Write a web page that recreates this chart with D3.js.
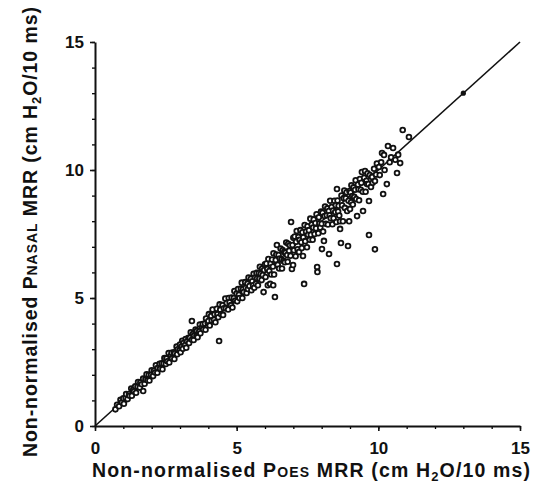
<!DOCTYPE html>
<html>
<head>
<meta charset="utf-8">
<script src="https://cdn.jsdelivr.net/npm/d3@7"></script>
<style>
  body { margin: 0; background: #fff; }
  text { font-family: "Liberation Sans", Arial, sans-serif; fill: #111; }
</style>
</head>
<body>
<div id="chart"></div>
<script>
// Non-normalised MRR, Poes (x) vs Pnasal (y), cm H2O/10 ms
const poesLow = [0.72,0.78,0.85,0.9,0.95,1.0,1.02,1.08,1.1,1.15,1.2,1.22,1.28,1.3,1.35,1.38,1.42,1.45,1.5,1.52,1.58,1.6,1.65,1.7,1.7,1.75,1.78,1.82,1.85,1.9,1.92,1.98,2.0,
  2.05,2.08,2.12,2.15,2.2,2.22,2.28,2.3,2.35,2.38,2.42,2.45,2.5,2.52,2.55,2.6,2.62,2.68,2.7,2.72,2.78,2.8,2.82,2.88,2.9,2.92,2.98,3.0,
  3.02,3.05,3.08,3.1,3.12,3.18,3.2,3.22,3.25,3.3,3.32,3.35,3.38,3.42,3.42,3.45,3.48,3.5,3.55,3.58,3.6,3.62,3.68,3.7,3.72,3.78,3.8,3.82,3.88,3.9,3.92,3.98];
const nasalLow = [0.65,0.83,0.77,1.02,0.93,1.08,0.87,1.10,1.25,1.05,1.25,1.18,1.46,1.18,1.42,1.36,1.55,1.30,1.53,1.72,1.50,1.70,1.63,1.37,1.85,1.65,1.82,2.02,1.79,2.00,1.78,2.00,2.18,
  1.95,2.16,2.09,2.37,2.08,2.27,2.43,2.24,2.45,2.22,2.44,2.65,2.42,2.64,2.53,2.85,2.48,2.74,2.86,2.65,2.88,2.62,2.84,3.10,2.80,3.00,2.95,3.18,
  2.88,3.10,3.33,3.02,3.24,3.16,3.40,3.06,3.31,3.45,3.24,3.45,3.66,4.10,3.37,3.59,3.36,3.54,3.77,3.52,3.72,3.47,3.70,3.96,3.62,3.86,3.98,3.78,4.00,3.76,4.20,4.03];

const poesMid = [4.0,4.02,4.05,4.1,4.12,4.15,4.2,4.22,4.25,4.3,4.32,4.35,4.38,4.4,4.42,4.45,4.5,4.52,4.55,4.6,4.62,4.65,4.7,4.72,4.75,4.8,4.82,4.85,4.9,4.92,4.95,5.0,
  5.02,5.05,5.08,5.1,5.15,5.18,5.2,5.22,5.25,5.3,5.32,5.35,5.38,5.4,5.42,5.45,5.5,5.52,5.55,5.58,5.6,5.62,5.65,5.68,5.7,5.72,5.75,5.78,5.8,5.82,5.85,5.88,5.9,5.92,5.95,5.97,6.0,
  6.02,6.05,6.08,6.1,6.12,6.15,6.18,6.2,6.22,6.25,6.28,6.29,6.3,6.32,6.35,6.38,6.4,6.42,6.45,6.48,6.5,6.52,6.55,6.58,6.6,6.62,6.65,6.68,6.7,6.72,6.75,6.78,6.8,6.82,6.85,6.88,6.9,6.92,6.95,6.97,6.99,7.0];
const nasalMid = [4.10,4.37,3.93,4.30,4.12,4.55,4.15,4.37,4.05,4.58,4.37,4.25,3.32,4.75,4.54,4.37,4.72,4.34,4.60,4.98,4.60,4.80,4.55,5.00,4.83,4.72,5.02,4.63,5.00,5.27,4.90,5.18,
  4.87,5.35,5.13,5.00,5.37,5.60,5.00,5.34,5.23,5.62,5.40,5.20,5.56,5.35,5.80,5.47,5.75,5.30,5.65,5.50,5.95,5.40,5.80,5.56,5.98,5.77,5.50,5.98,5.75,6.22,5.95,5.70,6.15,5.90,5.23,6.09,6.32,
  5.82,6.35,6.13,5.50,6.52,6.05,5.55,6.35,5.92,6.50,6.23,5.50,6.75,5.92,5.04,6.48,6.70,7.07,6.30,6.68,6.15,6.54,6.93,6.50,6.15,6.87,6.45,6.80,6.40,6.77,7.17,6.68,6.42,7.12,6.85,7.06,6.65,7.97,6.13,7.07,6.29,7.35];

const poesHigh = [7.02,7.05,7.08,7.1,7.12,7.15,7.18,7.2,7.22,7.25,7.28,7.3,7.32,7.34,7.35,7.38,7.4,7.42,7.45,7.48,7.5,7.52,7.55,7.58,7.6,7.62,7.65,7.68,7.7,7.72,7.75,7.78,7.8,7.82,7.84,7.85,7.88,7.9,7.92,7.95,7.98,
  8.0,8.01,8.03,8.05,8.08,8.1,8.12,8.15,8.18,8.2,8.22,8.25,8.26,8.28,8.3,8.32,8.35,8.38,8.4,8.42,8.45,8.48,8.5,8.52,8.54,8.54,8.56,8.58,8.6,8.62,8.65,8.65,8.68,8.7,8.72,8.75,8.78,8.8,8.82,8.85,8.88,8.9,8.93,8.95,8.97,8.98,
  9.0,9.02,9.04,9.05,9.08,9.1,9.12,9.15,9.18,9.2,9.22,9.25,9.28,9.3,9.32,9.35,9.38,9.4,9.42,9.45,9.46,9.5,9.53,9.55,9.58,9.6,9.62,9.65,9.67,9.67,9.7,9.74,9.78,9.8,9.85,9.88,9.88,9.92,9.95,10.02,
  10.05,10.1,10.13,10.17,10.2,10.22,10.3,10.34,10.4,10.45,10.52,10.6,10.66,10.7,10.77,10.86,11.08];
const nasalHigh = [6.87,7.40,6.63,7.20,7.62,6.90,7.38,6.80,7.27,7.65,7.18,6.95,7.57,6.64,7.37,5.55,7.85,7.22,7.60,6.98,7.80,7.47,7.65,7.28,8.10,7.47,7.87,7.28,7.75,8.07,7.50,7.93,7.72,8.27,6.21,6.02,7.53,8.15,7.92,7.75,8.38,
  7.90,6.91,8.33,7.60,7.23,8.20,8.57,7.90,8.23,8.50,7.87,8.40,6.72,8.23,8.80,8.12,8.55,7.88,8.42,8.12,8.80,8.36,8.62,7.97,9.26,6.33,8.81,8.38,8.60,8.22,8.00,7.70,7.15,9.00,8.62,8.00,8.90,9.20,8.52,8.90,9.13,8.40,7.03,8.80,8.00,9.18,
  8.48,9.12,8.74,9.40,8.98,8.65,9.32,8.95,9.23,9.60,8.87,8.20,9.43,9.25,8.82,9.65,9.23,9.50,9.92,9.15,8.40,9.70,9.96,9.15,9.58,9.45,9.87,9.45,8.79,7.46,9.80,9.34,9.73,9.50,10.05,9.57,6.90,9.82,10.25,10.12,
  9.80,10.30,10.66,9.06,10.59,10.00,9.45,10.94,10.30,10.50,10.86,10.40,9.88,10.60,10.27,11.56,11.29];

// single filled marker on the identity line
const markerPoint = [13, 13];

const xTicks = [0, 5, 10, 15];
const yTicks = [0, 5, 10, 15];
const minorTicks = d3.range(0, 16);

const poes = poesLow.concat(poesMid, poesHigh);
const nasal = nasalLow.concat(nasalMid, nasalHigh);
const points = poes.map((x, i) => ({ x: x, y: nasal[i] }));

const margin = { top: 42, right: 21, bottom: 64, left: 95 };
const width = 541 - margin.left - margin.right;
const height = 490 - margin.top - margin.bottom;

const svg = d3.select("#chart").append("svg")
    .attr("width", 541)
    .attr("height", 490);

const g = svg.append("g")
    .attr("transform", `translate(${margin.left}, ${margin.top})`);

const x = d3.scaleLinear().domain([0, 15]).range([0, width]);
const y = d3.scaleLinear().domain([0, 15]).range([height, 0]);

// minor ticks
g.append("g")
    .attr("transform", `translate(0, ${height})`)
    .call(d3.axisBottom(x).tickValues(minorTicks).tickSize(3).tickFormat(""))
    .call(a => a.select(".domain").remove())
    .call(a => a.selectAll("line").attr("stroke-width", 1.3));
g.append("g")
    .call(d3.axisLeft(y).tickValues(minorTicks).tickSize(3).tickFormat(""))
    .call(a => a.select(".domain").remove())
    .call(a => a.selectAll("line").attr("stroke-width", 1.3));

// major axes
const xAxis = g.append("g")
    .attr("transform", `translate(0, ${height})`)
    .call(d3.axisBottom(x).tickValues(xTicks).tickSize(5).tickSizeOuter(0).tickPadding(11));
const yAxis = g.append("g")
    .call(d3.axisLeft(y).tickValues(yTicks).tickSize(5).tickSizeOuter(0).tickPadding(6));

[xAxis, yAxis].forEach(a => {
    a.select(".domain").attr("stroke-width", 2).attr("stroke", "#111");
    a.selectAll("line").attr("stroke-width", 1.6).attr("stroke", "#111");
    a.selectAll("text")
        .style("font-family", "'Liberation Sans', Arial, sans-serif")
        .style("font-size", "17px")
        .style("font-weight", "bold")
        .attr("fill", "#111");
});

// line of identity
g.append("line")
    .attr("x1", x(0)).attr("y1", y(0))
    .attr("x2", x(15)).attr("y2", y(15))
    .attr("stroke", "#111")
    .attr("stroke-width", 1.6);

// data points
g.selectAll(".pt")
    .data(points)
    .enter()
    .append("circle")
    .attr("class", "pt")
    .attr("cx", d => x(d.x))
    .attr("cy", d => y(d.y))
    .attr("r", 2.4)
    .attr("fill", "#fff")
    .attr("stroke", "#111")
    .attr("stroke-width", 1.8);

g.append("circle")
    .attr("cx", x(markerPoint[0]))
    .attr("cy", y(markerPoint[1]))
    .attr("r", 2.6)
    .attr("fill", "#111");

// axis titles with small caps and subscript
function addTitle(el, sub) {
    el.append("tspan").text("Non-normalised P");
    el.append("tspan").style("font-size", "14px").text(sub);
    el.append("tspan").text(" MRR (cm H");
    el.append("tspan").style("font-size", "13px").attr("dy", 4).text("2");
    el.append("tspan").attr("dy", -4).text("O/10 ms)");
}

const xTitle = svg.append("text")
    .attr("x", 311)
    .attr("y", 477)
    .attr("text-anchor", "middle")
    .style("font-size", "19.5px")
    .style("font-weight", "bold")
    .attr("textLength", 438)
    .attr("lengthAdjust", "spacing");
addTitle(xTitle, "OES");

const yTitle = svg.append("text")
    .attr("transform", "translate(37, 232) rotate(-90)")
    .attr("text-anchor", "middle")
    .style("font-size", "19.5px")
    .style("font-weight", "bold")
    .attr("textLength", 450)
    .attr("lengthAdjust", "spacing");
addTitle(yTitle, "NASAL");
</script>
</body>
</html>
